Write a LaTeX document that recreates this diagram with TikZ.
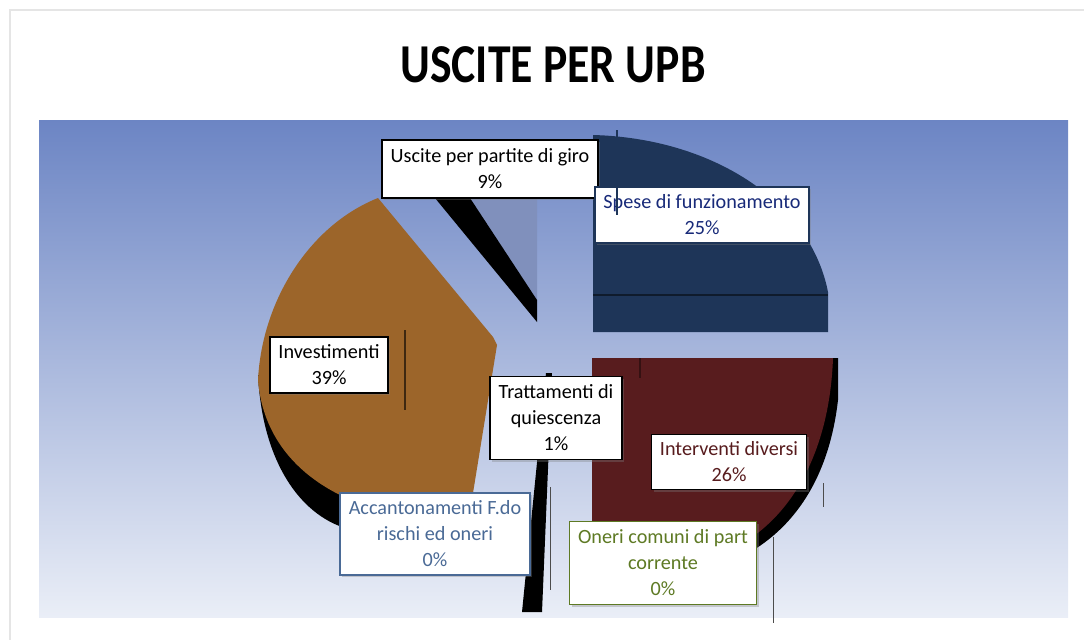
\documentclass[tikz,border=0pt]{standalone}
\usepackage{graphicx}
\usepackage{fontspec}
\setmainfont{Carlito}
\usetikzlibrary{shadows}
\definecolor{bgtop}{RGB}{108,133,196}
\definecolor{bgmid}{RGB}{168,185,225}
\definecolor{bgbottom}{RGB}{234,238,247}
\definecolor{spesenavy}{RGB}{30,53,88}
\definecolor{intervmaroon}{RGB}{88,28,30}
\definecolor{investbrown}{RGB}{156,101,42}
\definecolor{girogray}{RGB}{128,144,188}
\definecolor{accantblue}{RGB}{74,106,150}
\definecolor{onerigreen}{RGB}{94,122,36}

\begin{document}
\begin{tikzpicture}[
    x=0.02cm, y=-0.02cm,
    slicelabel/.style={rectangle, draw=black, line width=0.8pt, fill=white, align=center, inner sep=2pt,
        font=\fontsize{11.5}{14.8}\selectfont,
        drop shadow={shadow xshift=1.2pt, shadow yshift=-1.2pt, opacity=0.35}},
    leader/.style={gray!60!black, line width=0.5pt}
]
    \useasboundingbox (0,0) rectangle (1084,640);

    % Frame and title
    \draw[gray!20, line width=0.6pt] (10,640) -- (10,10) -- (1084,10);
    \node[font=\fontsize{26}{30}\selectfont\bfseries] (title) at (553,65) {\scalebox{1}[1.2]{USCITE PER UPB}};

    % Chart area
    \fill[top color=bgtop, middle color=bgmid, bottom color=bgbottom] (39,120) rectangle (1068,617);

    % Spese di funzionamento
    \fill[spesenavy] (593,135) .. controls (710,138) and (810,200) .. (828,292) -- (828,332) -- (593,332) -- cycle;
    \draw[black!50!spesenavy, line width=0.8pt] (593,295) -- (828,295);

    % Interventi diversi
    \fill[black] (600,365) -- (838,358) -- (838,400) .. controls (830,470) and (800,525) .. (745,555) -- (650,598) -- (600,598) -- cycle;
    \fill[intervmaroon] (592,358) -- (833,358) .. controls (830,440) and (800,510) .. (740,545) -- (640,590) -- (592,590) -- cycle;
    \draw[black!40!intervmaroon, line width=0.8pt] (640,358) -- (640,378);

    % Investimenti
    \fill[black] (258,375) .. controls (262,455) and (295,510) .. (342,527) -- (470,527) -- (470,495) -- cycle;
    \fill[investbrown] (378,198) .. controls (310,225) and (262,300) .. (258,380)
        .. controls (262,430) and (290,470) .. (340,495) -- (473,493) -- (497,345) -- (493,337) -- cycle;
    \draw[black!60!investbrown, line width=0.6pt] (405,330) -- (405,410);

    % Uscite per partite di giro
    \fill[girogray] (452,170) -- (537,170) -- (537,300) -- cycle;
    \fill[black] (435,198) -- (470,198) -- (537,300) -- (537,322) -- cycle;

    % Trattamenti di quiescenza
    \fill[black] (546,373) -- (552,373) -- (542,612) -- (522,612) -- cycle;

    % Thin lines
    \draw[leader] (550,487) -- (550,590);
    \draw[leader] (773,537) -- (773,623);
    \draw[leader] (823,483) -- (823,507);

    % Labels
    \node[slicelabel, minimum width=4.32cm, minimum height=1.16cm] (giro) at (490,169) {Uscite per partite di giro\\9\%};
    \node[slicelabel, draw=spesenavy, text=spesenavy!80!blue, minimum width=4.28cm, minimum height=1.12cm] (spese) at (702,215) {Spese di funzionamento\\25\%};
    \node[slicelabel, minimum width=2.36cm, minimum height=1.12cm] (invest) at (329,365) {Investimenti\\39\%};
    \node[slicelabel, minimum width=2.64cm, minimum height=1.66cm] (tratt) at (556,418) {Trattamenti di\\quiescenza\\1\%};
    \node[slicelabel, text=intervmaroon, minimum width=3.10cm, minimum height=1.10cm] (interv) at (729,462) {Interventi diversi\\26\%};
    \node[slicelabel, draw=accantblue, text=accantblue, minimum width=3.80cm, minimum height=1.64cm] (accant) at (435,534) {Accantonamenti F.do\\rischi ed oneri\\0\%};
    \node[slicelabel, draw=onerigreen, text=onerigreen, minimum width=3.74cm, minimum height=1.66cm] (oneri) at (663,563) {Oneri comuni di part\\corrente\\0\%};

    % Line over the label
    \draw[spesenavy, line width=0.8pt] (617,130) -- (617,215);
\end{tikzpicture}
\end{document}
